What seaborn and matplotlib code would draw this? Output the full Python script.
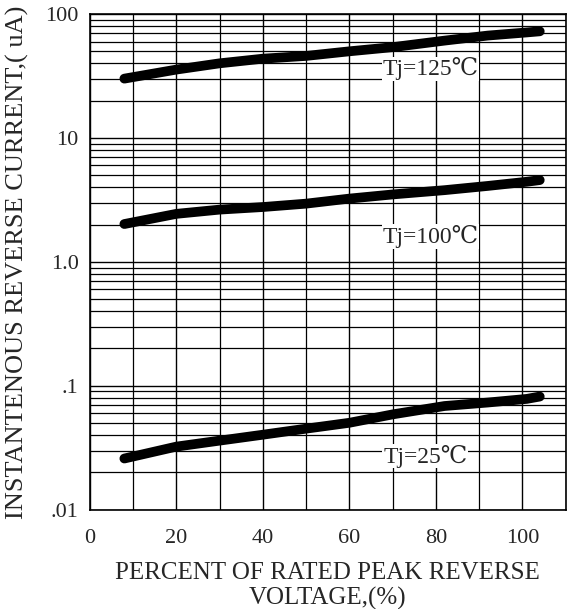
import numpy as np
import pandas as pd
import seaborn as sns
import matplotlib.pyplot as plt
from matplotlib.ticker import LogLocator, NullFormatter

# Data
pct = [8, 20, 30, 40, 50, 60, 70, 82, 92, 101, 104]
i_125 = [30.1, 35.6, 40.0, 43.6, 45.9, 50.0, 54.0, 61.0, 67.0, 71.0, 72.5]
i_100 = [2.02, 2.44, 2.64, 2.77, 2.95, 3.24, 3.50, 3.79, 4.10, 4.43, 4.57]
i_25 = [0.0259, 0.0323, 0.0361, 0.0403, 0.0451, 0.0503, 0.0588, 0.0687, 0.0733, 0.0784, 0.0819]

labels = ["Tj=125℃", "Tj=100℃", "Tj=25℃"]
label_x = [67.6, 67.6, 67.8]
label_y = [36, 1.6, 0.027]

ytick_vals = [0.01, 0.1, 1, 10, 100]
ytick_text = [".01", ".1", "1.0", "10", "100"]
xtick_vals = [0, 20, 40, 60, 80, 100]

df = pd.DataFrame({
    "pct": pct * 3,
    "current": i_125 + i_100 + i_25,
    "temp": [labels[0]] * len(pct) + [labels[1]] * len(pct) + [labels[2]] * len(pct),
})

sns.set_style("white")
plt.rcParams["font.family"] = ["Liberation Serif", "DejaVu Serif", "Noto Sans CJK SC"]

fig = plt.figure(figsize=(5.68, 6.09), dpi=100)
ax = fig.add_axes([0.158, 0.163, 0.838, 0.814])

sns.lineplot(data=df, x="pct", y="current", hue="temp", palette=["black"] * 3,
             linewidth=7, solid_capstyle="round", legend=False, ax=ax, zorder=3)

ax.set_yscale("log")
ax.set_ylim(0.01, 100)
ax.set_xlim(0, 110)

# log paper style grid
ax.yaxis.set_minor_locator(LogLocator(base=10, subs=np.arange(2, 10)))
ax.yaxis.set_minor_formatter(NullFormatter())
ax.set_yticks(ytick_vals)
ax.set_yticklabels(ytick_text)
ax.set_xticks(np.arange(0, 111, 10), minor=True)
ax.set_xticks(xtick_vals)
ax.grid(True, which="major", axis="both", color="black", linewidth=1.0)
ax.grid(True, which="minor", axis="both", color="black", linewidth=0.9)
ax.tick_params(which="both", length=0, labelsize=16)
ax.tick_params(axis="x", pad=14)
ax.tick_params(axis="y", pad=8)
for s in ax.spines.values():
    s.set_color("black")
    s.set_linewidth(1.2)

for t, x, y in zip(labels, label_x, label_y):
    ax.text(x, y, t, fontsize=17, ha="left", va="center", zorder=4,
            bbox=dict(facecolor="white", edgecolor="none", pad=0.5))

ax.set_xlabel("PERCENT OF RATED PEAK REVERSE\nVOLTAGE,(%)", fontsize=18, labelpad=10,
              linespacing=1.15)
ax.set_ylabel("INSTANTENOUS REVERSE CURRENT,( uA)", fontsize=19, labelpad=12)

fig.savefig("out.png", dpi=100)
